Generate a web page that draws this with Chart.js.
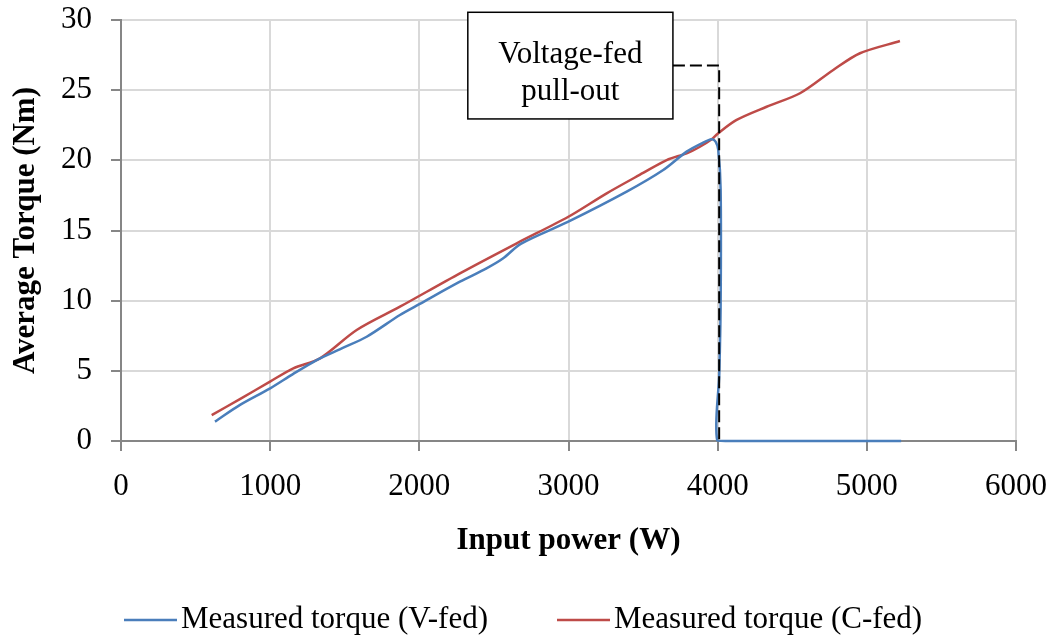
<!DOCTYPE html>
<html>
<head>
<meta charset="utf-8">
<script src="https://cdn.jsdelivr.net/npm/chart.js@4.4.1/dist/chart.umd.min.js"></script>
<style>
  html, body { margin: 0; padding: 0; background: #ffffff; }
  #wrap { width: 1055px; height: 642px; position: relative; }
</style>
</head>
<body>
<div id="wrap"><canvas id="c" width="1055" height="642"></canvas></div>
<script>
// ---- data ----
const seriesNames = ["Measured torque (V-fed)", "Measured torque (C-fed)"];
const xTitle = "Input power (W)";
const yTitle = "Average Torque (Nm)";

// V-fed: power (W) and torque (Nm)
const vPower  = [630, 798, 1000, 1150, 1312, 1480, 1647, 1870, 2000, 2272, 2450, 2560, 2680, 2999, 3390, 3635, 3792, 3900, 3960, 3986, 4004, 4020, 4020, 4011, 3997, 4100, 5230];
const vTorque = [1.38, 2.57, 3.75, 4.75, 5.77, 6.6, 7.43, 8.98, 9.75, 11.35, 12.3, 13.0, 14.05, 15.63, 17.77, 19.31, 20.62, 21.25, 21.5, 21.33, 20.74, 17.9, 9.8, 4.8, 0.05, 0, 0];

// C-fed: power (W) and torque (Nm)
const cPower  = [608, 800, 999, 1155, 1334, 1580, 1870, 2272, 2653, 2999, 3256, 3500, 3658, 3792, 3881, 3960, 4000, 4127, 4328, 4552, 4775, 4954, 5222];
const cTorque = [1.85, 3.0, 4.23, 5.18, 5.89, 7.91, 9.57, 11.95, 14.09, 15.98, 17.65, 19.1, 20.02, 20.5, 20.97, 21.5, 21.9, 22.88, 23.82, 24.78, 26.44, 27.63, 28.5];

// axis ticks
const xTicks = [0, 1000, 2000, 3000, 4000, 5000, 6000];
const yTicks = [0, 5, 10, 15, 20, 25, 30];

// annotation (in data units)
const noteText = ["Voltage-fed", "pull-out"];
const noteBoxX = [2325, 3700];     // left, right (W)
const noteBoxY = [30.55, 22.95];   // top, bottom (Nm)
const leaderX = [3700, 4010, 4010];
const leaderY = [26.75, 26.75, 0];

// ---- chart ----
const FONT = "'Liberation Serif', 'Times New Roman', serif";
const FS = 31;
const toXY = (xs, ys) => xs.map((x, i) => ({x: x, y: ys[i]}));

const annotationPlugin = {
  id: 'pulloutNote',
  afterDatasetsDraw(chart) {
    const {ctx, scales: {x, y}} = chart;
    ctx.save();
    ctx.beginPath();
    ctx.setLineDash([12, 5]);
    ctx.lineWidth = 2;
    ctx.strokeStyle = '#000000';
    leaderX.forEach((v, i) => {
      const px = x.getPixelForValue(v), py = y.getPixelForValue(leaderY[i]);
      if (i === 0) ctx.moveTo(px, py); else ctx.lineTo(px, py);
    });
    ctx.stroke();
    ctx.setLineDash([]);
    const l = x.getPixelForValue(noteBoxX[0]), r = x.getPixelForValue(noteBoxX[1]);
    const t = y.getPixelForValue(noteBoxY[0]), b = y.getPixelForValue(noteBoxY[1]);
    ctx.fillStyle = '#ffffff';
    ctx.fillRect(l, t, r - l, b - t);
    ctx.lineWidth = 1.5;
    ctx.strokeStyle = '#000000';
    ctx.strokeRect(l, t, r - l, b - t);
    ctx.fillStyle = '#000000';
    ctx.font = FS + "px " + FONT;
    ctx.textAlign = 'center';
    ctx.textBaseline = 'alphabetic';
    const cx = (l + r) / 2, h = b - t;
    const fr = [0.48, 0.82];
    noteText.forEach((s, i) => ctx.fillText(s, cx, t + h * fr[i]));
    ctx.restore();
  }
};

const legendItemX = [124, 557];
const legendY = 620;
const legendPlugin = {
  id: 'bottomLegend',
  afterDraw(chart) {
    const ctx = chart.ctx;
    ctx.save();
    ctx.font = FS + "px " + FONT;
    ctx.textAlign = 'left';
    ctx.textBaseline = 'middle';
    chart.data.datasets.forEach((ds, i) => {
      const x0 = legendItemX[i];
      ctx.beginPath();
      ctx.strokeStyle = ds.borderColor;
      ctx.lineWidth = ds.borderWidth;
      ctx.moveTo(x0, legendY);
      ctx.lineTo(x0 + 53, legendY);
      ctx.stroke();
      ctx.fillStyle = '#000000';
      ctx.fillText(ds.label, x0 + 57, legendY);
    });
    ctx.restore();
  }
};

new Chart(document.getElementById('c'), {
  type: 'scatter',
  data: {
    datasets: [
      {
        label: seriesNames[0],
        data: toXY(vPower, vTorque),
        showLine: true,
        borderColor: '#4a7ebb',
        backgroundColor: '#4a7ebb',
        borderWidth: 2.5,
        pointRadius: 0,
        tension: 0.3,
        clip: false
      },
      {
        label: seriesNames[1],
        data: toXY(cPower, cTorque),
        showLine: true,
        borderColor: '#be4b48',
        backgroundColor: '#be4b48',
        borderWidth: 2.5,
        pointRadius: 0,
        tension: 0.3,
        clip: false
      }
    ]
  },
  options: {
    responsive: false,
    animation: false,
    events: [],
    layout: { padding: { left: 0, right: 39, top: 20, bottom: 0 } },
    plugins: {
      tooltip: { enabled: false },
      legend: { display: false }
    },
    scales: {
      x: {
        type: 'linear',
        min: 0, max: 6000,
        afterBuildTicks: (s) => { s.ticks = xTicks.map(v => ({value: v})); },
        afterFit: (s) => { s.height = 201; s.paddingLeft = 0; s.paddingRight = 0; },
        grid: { color: '#d9d9d9', lineWidth: 2, tickLength: 10, tickColor: '#868686' },
        border: { color: '#868686', width: 2 },
        ticks: { color: '#000000', font: { family: FONT, size: FS }, padding: 17, maxRotation: 0, callback: (v) => String(v) },
        title: { display: true, text: xTitle, color: '#000000', font: { family: FONT, size: FS, weight: 'bold' }, padding: { top: 0, bottom: 82 } }
      },
      y: {
        type: 'linear',
        min: 0, max: 30,
        afterBuildTicks: (s) => { s.ticks = yTicks.map(v => ({value: v})); },
        afterFit: (s) => { s.width = 121; s.paddingTop = 0; s.paddingBottom = 0; },
        grid: { color: '#d9d9d9', lineWidth: 2, tickLength: 10, tickColor: '#868686' },
        border: { color: '#868686', width: 2 },
        ticks: { color: '#000000', font: { family: FONT, size: FS }, padding: 19, callback: (v) => String(v) },
        title: { display: true, text: yTitle, color: '#000000', font: { family: FONT, size: FS, weight: 'bold' }, padding: { top: 7, bottom: 0 } }
      }
    }
  },
  plugins: [annotationPlugin, legendPlugin]
});
</script>
</body>
</html>
